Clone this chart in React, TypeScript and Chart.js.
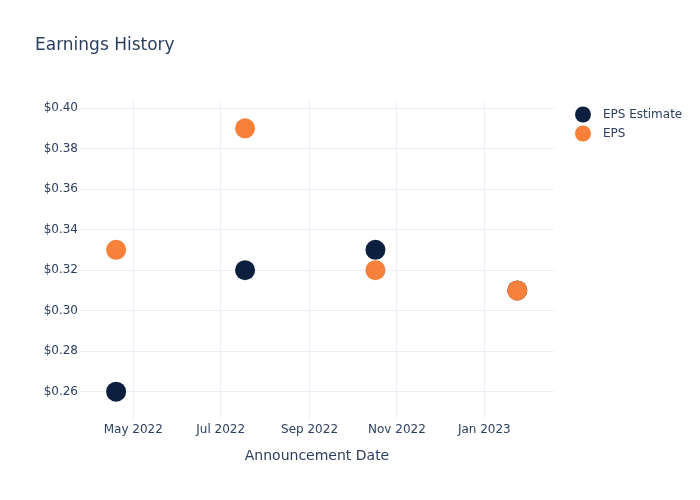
import React, { useEffect, useRef } from "react";
import { Chart, registerables } from "chart.js";

Chart.register(...registerables);

// ---- Data ----
const TITLE = "Earnings History";
const X_TITLE = "Announcement Date";
const dates = ["2022-04-19", "2022-07-18", "2022-10-17", "2023-01-24"];
const epsEstimate = [0.26, 0.32, 0.33, 0.31];
const eps = [0.33, 0.39, 0.32, 0.31];
const seriesNames = ["EPS Estimate", "EPS"];
const seriesColors = ["#0c1f3f", "#f7803a"];
const xTickDates = ["2022-05-01", "2022-07-01", "2022-09-01", "2022-11-01", "2023-01-01"];
const yTickValues = [0.26, 0.28, 0.3, 0.32, 0.34, 0.36, 0.38, 0.4];
const X_MIN = "2022-03-24T19:00:00Z";
const X_MAX = "2023-02-18T15:00:00Z";
const Y_MIN = 0.246;
const Y_MAX = 0.404;
const MONTHS = ["Jan", "Feb", "Mar", "Apr", "May", "Jun", "Jul", "Aug", "Sep", "Oct", "Nov", "Dec"];

const TEXT_COLOR = "#2a3f5f";
const GRID_COLOR = "#ebf0f8";
const FONT = '"DejaVu Sans", Verdana, sans-serif';

const toTs = (d: string) => Date.parse(d.length === 10 ? d + "T00:00:00Z" : d);
const fmtMonth = (v: number) => {
  const dt = new Date(v);
  return MONTHS[dt.getUTCMonth()] + " " + dt.getUTCFullYear();
};

export default function App() {
  const ref = useRef<HTMLCanvasElement | null>(null);

  useEffect(() => {
    document.body.style.margin = "0";
    const canvas = ref.current;
    if (!canvas) return;

    const overlay = {
      id: "overlay",
      afterDraw(chart: any) {
        const ctx = chart.ctx as CanvasRenderingContext2D;
        ctx.save();
        ctx.textAlign = "left";
        ctx.textBaseline = "middle";
        ctx.fillStyle = TEXT_COLOR;
        ctx.font = "17px " + FONT;
        ctx.fillText(TITLE, 35, 45.5);
        ctx.font = "12px " + FONT;
        seriesNames.forEach((name, i) => {
          const y = 114.5 + i * 19;
          ctx.beginPath();
          ctx.arc(583, y, 8, 0, Math.PI * 2);
          ctx.fillStyle = seriesColors[i];
          ctx.fill();
          ctx.fillStyle = TEXT_COLOR;
          ctx.fillText(name, 603, y + 0.5);
        });
        ctx.restore();
      },
    };

    const mk = (vals: number[]) => dates.map((d, i) => ({ x: toTs(d), y: vals[i] }));

    const chart = new Chart(canvas, {
      type: "scatter",
      data: {
        datasets: [
          {
            label: seriesNames[0],
            data: mk(epsEstimate),
            backgroundColor: seriesColors[0],
            borderColor: seriesColors[0],
            borderWidth: 0,
            pointRadius: 10,
            order: 1,
          },
          {
            label: seriesNames[1],
            data: mk(eps),
            backgroundColor: seriesColors[1],
            borderColor: seriesColors[1],
            borderWidth: 0,
            pointRadius: 10,
            order: 0,
          },
        ],
      },
      options: {
        animation: false,
        responsive: false,
        maintainAspectRatio: false,
        layout: { padding: { left: 0, top: 100, right: 146, bottom: 0 } },
        plugins: {
          legend: { display: false },
          tooltip: { enabled: false },
          title: { display: false },
        },
        scales: {
          x: {
            type: "linear",
            min: toTs(X_MIN),
            max: toTs(X_MAX),
            afterBuildTicks: (s: any) => {
              s.ticks = xTickDates.map((d) => ({ value: toTs(d) }));
            },
            afterFit: (s: any) => {
              s.height = 80;
            },
            grid: { color: GRID_COLOR, drawTicks: false },
            border: { display: false },
            ticks: {
              color: TEXT_COLOR,
              font: { family: FONT, size: 12 },
              padding: 3,
              maxRotation: 0,
              autoSkip: false,
              callback: (v: any) => fmtMonth(Number(v)),
            },
            title: {
              display: true,
              text: X_TITLE,
              color: TEXT_COLOR,
              font: { family: FONT, size: 14 },
              padding: { top: 0, bottom: 35 },
            },
          },
          y: {
            type: "linear",
            min: Y_MIN,
            max: Y_MAX,
            afterBuildTicks: (s: any) => {
              s.ticks = yTickValues.map((v) => ({ value: v }));
            },
            afterFit: (s: any) => {
              s.width = 80;
            },
            grid: { color: GRID_COLOR, drawTicks: false },
            border: { display: false },
            ticks: {
              color: TEXT_COLOR,
              font: { family: FONT, size: 12 },
              padding: 2,
              autoSkip: false,
              callback: (v: any) => "$" + Number(v).toFixed(2),
            },
          },
        },
      },
      plugins: [overlay],
    } as any);

    return () => chart.destroy();
  }, []);

  return (
    <div style={{ width: 700, height: 500, background: "#fff" }}>
      <canvas ref={ref} width={700} height={500} style={{ display: "block", width: 700, height: 500 }} />
    </div>
  );
}
